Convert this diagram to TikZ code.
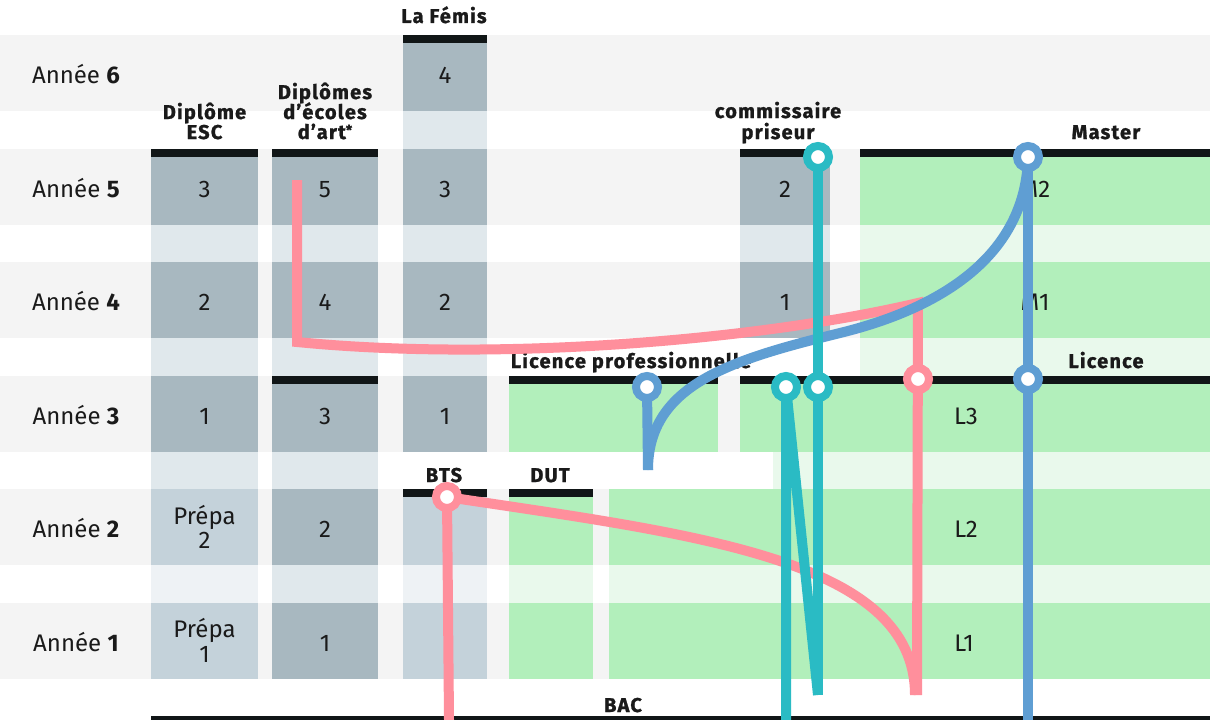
\documentclass[tikz,border=0pt]{standalone}
\usepackage{fontspec}
\setmainfont{Fira Sans}
\definecolor{band}{HTML}{F4F4F4}
\definecolor{dark}{HTML}{A8B8C0}
\definecolor{light}{HTML}{C4D2DA}
\definecolor{gapc}{HTML}{E0E8EC}
\definecolor{gapl}{HTML}{EEF2F5}
\definecolor{grn}{HTML}{B2EFBB}
\definecolor{lgrn}{HTML}{E9F9EC}
\definecolor{barc}{HTML}{111617}
\definecolor{pinkc}{HTML}{FF8F9C}
\definecolor{tealc}{HTML}{2ABBC4}
\definecolor{bluec}{HTML}{5F9ED3}
\definecolor{txtc}{HTML}{1A1A1A}
\newcommand\hdfont{\fontsize{20}{20}\selectfont\bfseries\addfontfeatures{LetterSpace=6,FakeBold=1.2}}
\newcommand\rgfont{\fontsize{24}{24}\selectfont}
\tikzset{
  hd/.style={anchor=base, inner sep=0pt, text=txtc, font=\hdfont, text height=14pt, text depth=4pt},
  rg/.style={anchor=base, inner sep=0pt, text=txtc, font=\rgfont, text height=16pt, text depth=5pt},
  barbox/.style={fill=barc},
  route/.style={line width=10pt, line join=miter},
  pinkroute/.style={route, draw=pinkc},
  tealroute/.style={route, draw=tealc},
  blueroute/.style={route, draw=bluec},
  stop/.style={circle, fill=white, line width=8pt, minimum size=22pt, inner sep=0pt},
}
\begin{document}
\begin{tikzpicture}[x=1pt,y=-1pt]
\useasboundingbox (0,0) rectangle (1210,720);
\fill[white] (0,0) rectangle (1210,720);
% row bands
\foreach \t in {35,149,262,376,489,603} \fill[band] (0,\t) rectangle (1210,\t+76);
% ESC column
\fill[gapc] (151,149) rectangle (258,489);
\foreach \t in {149,262,376} \fill[dark] (151,\t) rectangle (258,\t+76);
\fill[gapl] (151,489) rectangle (258,679);
\foreach \t in {489,603} \fill[light] (151,\t) rectangle (258,\t+76);
% Art column
\fill[gapc] (272,149) rectangle (378,679);
\foreach \t in {149,262,376,489,603} \fill[dark] (272,\t) rectangle (378,\t+76);
% Femis column
\fill[gapc] (403,35) rectangle (487,452);
\foreach \t in {35,149,262,376} \fill[dark] (403,\t) rectangle (487,\t+76);
% BTS column
\fill[gapl] (403,489) rectangle (487,679);
\foreach \t in {489,603} \fill[light] (403,\t) rectangle (487,\t+76);
% commissaire priseur
\fill[gapc] (740,149) rectangle (830,338);
\foreach \t in {149,262} \fill[dark] (740,\t) rectangle (830,\t+76);
% Master
\fill[lgrn] (860,149) rectangle (1210,376);
\foreach \t in {149,262} \fill[grn] (860,\t) rectangle (1210,\t+76);
% Licence pro, L3
\fill[grn] (509,376) rectangle (718,452);
\fill[grn] (740,376) rectangle (1210,452);
\fill[lgrn] (773,452) rectangle (1210,489);
% DUT
\fill[lgrn] (509,489) rectangle (593,679);
\foreach \t in {489,603} \fill[grn] (509,\t) rectangle (593,\t+76);
% L1 L2
\fill[lgrn] (609,489) rectangle (1210,679);
\foreach \t in {489,603} \fill[grn] (609,\t) rectangle (1210,\t+76);
% bars
\fill[barbox] (403,35) rectangle (487,43);
\fill[barbox] (151,149) rectangle (258,157);
\fill[barbox] (272,149) rectangle (378,157);
\fill[barbox] (272,376) rectangle (378,384);
\fill[barbox] (740,149) rectangle (830,157);
\fill[barbox] (860,149) rectangle (1210,157);
\fill[barbox] (509,376) rectangle (718,384);
\fill[barbox] (740,376) rectangle (1210,384);
\fill[barbox] (403,489) rectangle (487,497);
\fill[barbox] (509,489) rectangle (593,497);
\fill[barbox] (151,716) rectangle (1210,720);
% year labels
\node[rg] (y6) at (76,83) {Année \textbf{6}};
\node[rg] (y5) at (76,197) {Année \textbf{5}};
\node[rg] (y4) at (76,310) {Année \textbf{4}};
\node[rg] (y3) at (76,424) {Année \textbf{3}};
\node[rg] (y2) at (76,537) {Année \textbf{2}};
\node[rg] (y1) at (76,651) {Année \textbf{1}};
% cell labels
\node[rg] (e3) at (204.5,197) {3};
\node[rg] (e2) at (204.5,310) {2};
\node[rg] (e1) at (204.5,424) {1};
\node[rg] (p2a) at (204.5,524) {Prépa};
\node[rg] (p2b) at (204.5,548) {2};
\node[rg] (p1a) at (204.5,637) {Prépa};
\node[rg] (p1b) at (204.5,662) {1};
\node[rg] (a5) at (325,197) {5};
\node[rg] (a4) at (325,310) {4};
\node[rg] (a3) at (325,424) {3};
\node[rg] (a2) at (325,537) {2};
\node[rg] (a1) at (325,651) {1};
\node[rg] (f4) at (445,83) {4};
\node[rg] (f3) at (445,197) {3};
\node[rg] (f2) at (445,310) {2};
\node[rg] (f1) at (445,424) {1};
\node[rg] (c2) at (785,197) {2};
\node[rg] (c1) at (785,310) {1};
\node[rg] (m2) at (1035,197) {M2};
\node[rg] (m1) at (1035,310) {M1};
\node[rg] (l3) at (966,424) {L3};
\node[rg] (l2) at (966,537) {L2};
\node[rg] (l1) at (964,651) {L1};
% headers
\node[hd] (hfem) at (444,23) {La Fémis};
\node[hd] (hesc1) at (204.5,119) {Diplôme};
\node[hd] (hesc2) at (204.5,139) {ESC};
\node[hd] (hart1) at (325,99) {Diplômes};
\node[hd] (hart2) at (325,119) {d’écoles};
\node[hd] (hart3) at (325,139) {d’art\raisebox{4pt}{\fontsize{14}{14}\selectfont*}};
\node[hd] (hcp1) at (778,118) {commissaire};
\node[hd] (hcp2) at (778,139) {priseur};
\node[hd] (hmas) at (1106,139) {Master};
\node[hd] (hlp) at (631,368) {Licence professionnelle};
\node[hd] (hlic) at (1106,368) {Licence};
\node[hd] (hbts) at (444,482) {BTS};
\node[hd] (hdut) at (550,482) {DUT};
\node[hd] (hbac) at (623,712) {BAC};
% stops (positions)
\coordinate (sBTS) at (447,497);
\coordinate (sLP) at (647,387);
\coordinate (sT1) at (786,387);
\coordinate (sT2) at (818,387);
\coordinate (sCP) at (818,157);
\coordinate (sL) at (918,379);
\coordinate (sLB) at (1028,379);
\coordinate (sM) at (1028,157);
% free ends
\coordinate (pStart) at (297,180);
\coordinate (pCorner) at (297,342);
\coordinate (pJoin) at (918,303);
\coordinate (pEnd) at (917,695);
\coordinate (pBTSend) at (449,720);
\coordinate (tEnd) at (818,695);
\coordinate (tEndL) at (786,720);
\coordinate (bEnd) at (1028,720);
\coordinate (bLP) at (648,470);
\coordinate (bMid) at (840,333);
% pink routes
\draw[pinkroute] (pStart) -- (pCorner) .. controls (500,362) and (760,340) .. (pJoin) -- (pEnd);
\draw[pinkroute] (sBTS) -- (pBTSend);
\draw[pinkroute] (sBTS) .. controls (700,535) and (915,560) .. (915,695);
% blue routes
\draw[blueroute] (sM) -- (bEnd);
\draw[blueroute] (sLP) -- (bLP);
\draw[blueroute] (bLP) .. controls (648,385) and (730,360) .. (bMid) .. controls (950,306) and (1026,250) .. (sM);
% teal routes
\draw[tealroute] (sCP) -- (tEnd);
\draw[tealroute] (tEndL) -- (sT1) -- (tEnd);
% stop circles
\node[stop, draw=pinkc] (nBTS) at (sBTS) {};
\node[stop, draw=bluec] (nLP) at (sLP) {};
\node[stop, draw=tealc] (nT1) at (sT1) {};
\node[stop, draw=tealc] (nT2) at (sT2) {};
\node[stop, draw=tealc] (nCP) at (sCP) {};
\node[stop, draw=pinkc] (nL) at (sL) {};
\node[stop, draw=bluec] (nLB) at (sLB) {};
\node[stop, draw=bluec] (nM) at (sM) {};
\end{tikzpicture}
\end{document}
